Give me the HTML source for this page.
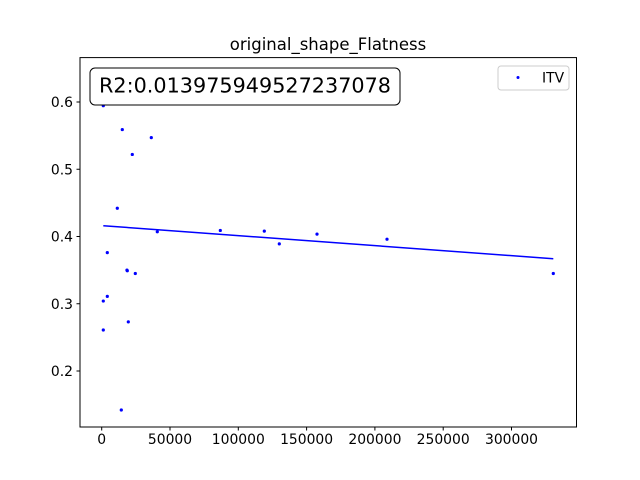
<!DOCTYPE html>
<html><head><meta charset="utf-8"><style>
body{margin:0;background:#fff;}
svg{display:block;font-family:"DejaVu Sans","Liberation Sans",sans-serif;}
</style></head><body>
<svg id="chart" width="640" height="480" xmlns="http://www.w3.org/2000/svg">
<rect width="640" height="480" fill="#fff"/>
<text x="328" y="50" text-anchor="middle" font-size="16.5">original_shape_Flatness</text>
<g id="marks"></g>
<rect x="80" y="57.6" width="496.5" height="369.4" fill="none" stroke="#000" stroke-width="1"/>
<g id="xticks"></g><g id="yticks"></g>
<g>
<rect x="90" y="68" width="310" height="37" rx="5" fill="#fff" stroke="#000" stroke-width="1"/>
<text x="99" y="92.5" font-size="20.6" textLength="292" lengthAdjust="spacingAndGlyphs">R2:0.013975949527237078</text>
</g>
<g>
<rect x="498" y="66" width="71" height="24" rx="3" fill="#fff" stroke="#ccc" stroke-width="1"/>
<circle cx="518" cy="77.5" r="1.5" fill="#0000ff"/>
<text x="542" y="82.5" font-size="13.9">ITV</text>
</g>
</svg>
<script>
const xs=[1170,15080,36310,22400,11420,40700,86830,119040,130020,4100,18740,24600,4100,1170,19470,1170,14350,157620,208870,330600,18500];
const ys=[0.5945,0.559,0.547,0.522,0.442,0.407,0.409,0.408,0.389,0.376,0.349,0.345,0.311,0.304,0.273,0.261,0.142,0.4035,0.396,0.345,0.350];
const fitIntercept=[0.4162];
const fitSlope=[-1.49e-7];
const xTickVals=[0,50000,100000,150000,200000,250000,300000];
const yTickVals=[0.2,0.3,0.4,0.5,0.6];
const NS="http://www.w3.org/2000/svg";
function X(v){return 101.7+(v/50000)*68.3;}
function Y(v){return 102+(0.6-v)*672.5;}
function mk(t,a,p){const e=document.createElementNS(NS,t);for(const k in a)e.setAttribute(k,a[k]);p.appendChild(e);return e;}
const marks=document.getElementById('marks');
const xmin=Math.min(...xs),xmax=Math.max(...xs);
const ln=mk('line',{x1:X(xmin),y1:Y(fitIntercept[0]+fitSlope[0]*xmin),x2:X(xmax),y2:Y(fitIntercept[0]+fitSlope[0]*xmax),stroke:'#0000ff','stroke-width':1.5},marks);


xs.forEach((x,i)=>{const c=mk('circle',{cx:X(x),cy:Y(ys[i]),r:1.6,fill:'#0000ff'},marks);

});
const xt=document.getElementById('xticks');
xTickVals.forEach(v=>{const g=mk('g',{},xt);


mk('line',{x1:X(v),x2:X(v),y1:427,y2:430.5,stroke:'#000'},g);
const t=mk('text',{x:X(v),y:444,'text-anchor':'middle','font-size':13.9},g);t.textContent=String(v);});
const yt=document.getElementById('yticks');
yTickVals.forEach(v=>{const g=mk('g',{},yt);


mk('line',{x1:76.5,x2:80,y1:Y(v),y2:Y(v),stroke:'#000'},g);
const t=mk('text',{x:73,y:Y(v)+5,'text-anchor':'end','font-size':13.9},g);t.textContent=v.toFixed(1);});
</script>
</body></html>
